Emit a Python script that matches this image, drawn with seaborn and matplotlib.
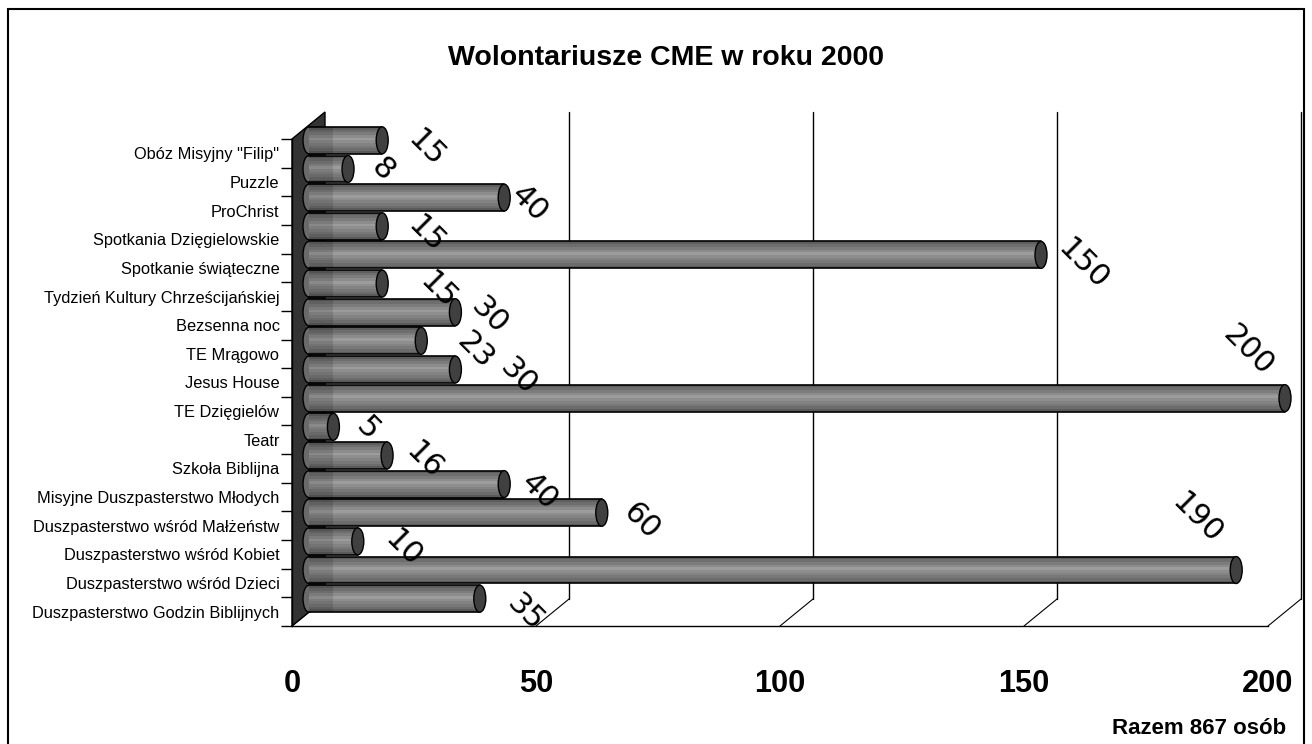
import numpy as np
import matplotlib
matplotlib.use("Agg")
import matplotlib.pyplot as plt
import seaborn as sns
from matplotlib import font_manager
from matplotlib.patches import Ellipse, Polygon, Rectangle

# data, top to bottom
categories = ['Obóz Misyjny "Filip"', 'Puzzle', 'ProChrist', 'Spotkania Dzięgielowskie',
              'Spotkanie świąteczne', 'Tydzień Kultury Chrześcijańskiej', 'Bezsenna noc',
              'TE Mrągowo', 'Jesus House', 'TE Dzięgielów', 'Teatr', 'Szkoła Biblijna',
              'Misyjne Duszpasterstwo Młodych', 'Duszpasterstwo wśród Małżeństw',
              'Duszpasterstwo wśród Kobiet', 'Duszpasterstwo wśród Dzieci',
              'Duszpasterstwo Godzin Biblijnych']
volunteers = [15, 8, 40, 15, 150, 15, 30, 23, 30, 200, 5, 16, 40, 60, 10, 190, 35]
x_ticks = [0, 50, 100, 150, 200]
title = 'Wolontariusze CME w roku 2000'
footnote = 'Razem 867 osób'

# label offsets (px, from the bar end cap / bar centre, y downwards) - excel put them a bit randomly
lbl_dx = [38, 29, 19, 38, 36, 50, 28, 48, 57, -43, 28, 31, 29, 34, 40, -45, 40]
lbl_dy = [8, 1, 6, 8, 10, 7, 4, 10, 7, -48, 2, 5, 8, 9, 7, -51, 14]

sns.set_style("white")
names = {f.name for f in font_manager.fontManager.ttflist}
if 'Liberation Sans Narrow' in names:
    narrow, k = 'Liberation Sans Narrow', 1.0
else:
    narrow, k = 'Liberation Sans', 0.82
plt.rcParams['font.family'] = [narrow, 'DejaVu Sans']
plt.rcParams['text.color'] = 'black'
plt.rcParams['xtick.color'] = 'black'
plt.rcParams['ytick.color'] = 'black'

W, H = 1312, 744
fig = plt.figure(figsize=(W / 100, H / 100), dpi=100)
# front plane of the fake 3d box: x 292..1268 px, y 139..626 px
ax = fig.add_axes([292 / W, (H - 626) / H, 976 / W, 487 / H])

n = len(categories)
XU = 200 / 976.0   # data units per px
YU = n / 487.0
bar_h = 0.94
sx, sy = 17 * XU, -13 * YU      # bar depth shift
bx, by = 33 * XU, -27 * YU      # back wall shift

sns.barplot(x=volunteers, y=categories, orient='h', color='#7c7c7c', width=bar_h,
            saturation=1, ax=ax)
for p in ax.patches:
    p.set_x(p.get_x() + sx)
    p.set_y(p.get_y() + sy)
    p.set_edgecolor('none')
    p.set_zorder(3)
    p.set_clip_on(False)

ax.set_xlim(0, 200)
ax.set_ylim(n - 0.5, -0.5)

pos = np.arange(n)
centers = pos + sy
vals = np.array(volunteers, dtype=float)

# cylinder shading bands
band_cols = ['#5e5e5e', '#6e6e6e', '#7c7c7c', '#8c8c8c', '#9c9c9c', '#8e8e8e',
             '#838383', '#787878', '#6c6c6c', '#5a5a5a']
nb = len(band_cols)
for j, c in enumerate(band_cols):
    off = -bar_h / 2 + (j + 0.5) * bar_h / nb
    bars = ax.barh(centers + off, vals, left=sx, height=bar_h / nb, color=c, zorder=3.2, linewidth=0)
    for b in bars:
        b.set_clip_on(False)
# darker part near the wall
bars = ax.barh(centers, np.minimum(vals, 24 * XU), left=sx, height=bar_h, color='black',
               alpha=0.12, zorder=3.3, linewidth=0)
for b in bars:
    b.set_clip_on(False)

for i, v in enumerate(volunteers):
    top, bot = centers[i] - bar_h / 2, centers[i] + bar_h / 2
    ax.plot([sx, v + sx], [top, top], color='black', lw=1.2, zorder=4, clip_on=False)
    ax.plot([sx, v + sx], [bot, bot], color='black', lw=1.2, zorder=4, clip_on=False)
    ax.add_patch(Ellipse((sx, centers[i]), 12 * XU, bar_h, facecolor='#6a6a6a',
                         edgecolor='black', lw=1.0, zorder=2.5, clip_on=False))
    ax.add_patch(Ellipse((v + sx, centers[i]), 12 * XU, bar_h, facecolor='#404040',
                         edgecolor='black', lw=1.0, zorder=5, clip_on=False))
    tx = v + sx + (6 + lbl_dx[i]) * XU
    ty = centers[i] + lbl_dy[i] * YU
    ax.text(tx, ty, str(v), rotation=-45, ha='center', va='center', fontsize=22,
            family='DejaVu Sans', color='black', zorder=6, clip_on=False)

# left wall
ax.add_patch(Polygon([(0, -0.5), (bx, -0.5 + by), (bx, n - 0.5 + by), (0, n - 0.5)],
                     closed=True, facecolor='#333333', edgecolor='black', lw=1,
                     zorder=1, clip_on=False))
# back wall gridlines + floor diagonals
for t in x_ticks[1:]:
    ax.plot([t + bx, t + bx], [-0.5 + by, n - 0.5 + by], color='black', lw=1,
            zorder=0.5, clip_on=False)
for t in x_ticks:
    ax.plot([t, t + bx], [n - 0.5, n - 0.5 + by], color='black', lw=0.8,
            zorder=0.5, clip_on=False)

ax.set_xlabel('')
ax.set_ylabel('')
ax.set_xticks(x_ticks)
ax.set_xticklabels([str(t) for t in x_ticks])
ax.set_yticks(pos, minor=False)
ax.set_yticks(np.arange(-0.5, n, 1), minor=True)
ax.tick_params(axis='x', length=8, width=1, pad=23, labelsize=27 * k, colors='black')
ax.tick_params(axis='y', which='major', length=0, pad=9, labelsize=14.4 * k)
ax.tick_params(axis='y', which='minor', length=8, width=1, left=True)
for lb in ax.get_xticklabels():
    lb.set_fontweight('bold')
for sp in ['top', 'right']:
    ax.spines[sp].set_visible(False)
ax.spines['bottom'].set_linewidth(1)
ax.spines['left'].set_linewidth(1)
ax.spines['bottom'].set_color('black')
ax.spines['left'].set_color('black')

fig.text(666 / W, 1 - 58 / H, title, ha='center', va='center', fontsize=25 * k,
         fontweight='bold')
fig.text(1286 / W, 1 - 728 / H, footnote, ha='right', va='center', fontsize=19.5 * k,
         fontweight='bold')

# outer frame
fig.patches.append(Rectangle((8 / W, -0.05), (1304 - 8) / W, (H - 9) / H + 0.05,
                             transform=fig.transFigure, fill=False, edgecolor='black',
                             lw=1.5, figure=fig))

fig.savefig('out.png', dpi=100)
